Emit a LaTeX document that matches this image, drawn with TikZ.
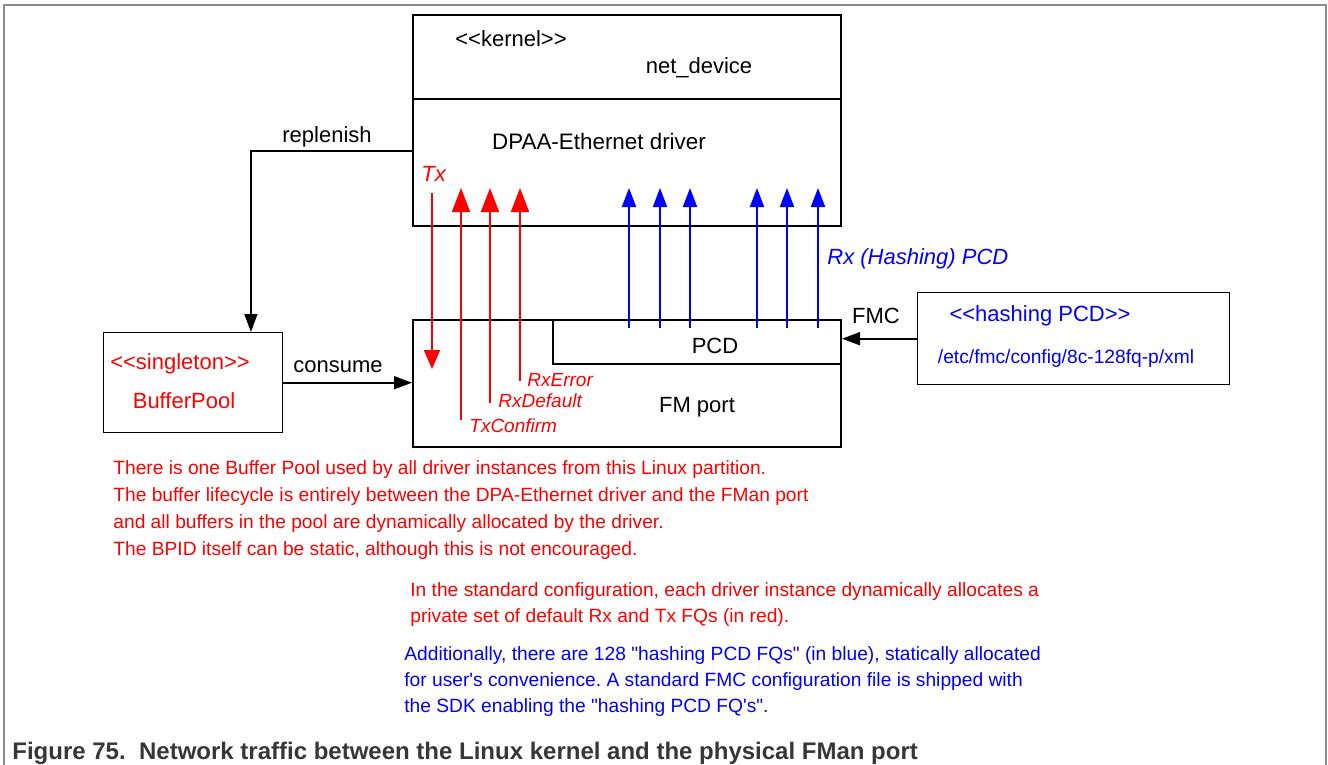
\documentclass[tikz,border=0pt]{standalone}
\usepackage{fontspec}
\setmainfont{Liberation Sans}[Ligatures=TeXOff]
\usetikzlibrary{arrows.meta,positioning,calc}
\definecolor{fqred}{RGB}{255,0,0}
\definecolor{fqblue}{RGB}{0,0,255}
\definecolor{framegray}{RGB}{140,140,140}
\definecolor{capgray}{RGB}{55,55,55}
\frenchspacing
\tikzset{
  box/.style={draw, line width=1pt, inner sep=0pt, anchor=north west},
  thinbox/.style={draw, line width=0.7pt, inner sep=0pt, anchor=north west},
  lbl/.style={inner sep=0pt, anchor=base, font=\fontsize{11}{13}\selectfont},
  fqlbl/.style={inner sep=0pt, anchor=base west, text=fqred, font=\fontsize{9.5}{11}\selectfont\itshape},
  para/.style={inner sep=0pt, anchor=base west, align=left, font=\fontsize{9.6}{13}\selectfont},
  flow/.style={line width=0.8pt, -{Triangle[length=9pt,width=6.5pt]}},
  fqup/.style={draw=fqred, line width=1pt, -{Triangle[length=12pt,width=9pt]}},
  fqdown/.style={draw=fqred, line width=0.8pt, -{Triangle[length=9.5pt,width=8pt]}},
  hashup/.style={draw=fqblue, line width=1pt, -{Triangle[length=9.5pt,width=7pt]}}
}
\begin{document}
\begin{tikzpicture}[x=0.5pt,y=-0.5pt]
\useasboundingbox (0,0) rectangle (1328,765);
\draw[framegray, line width=1pt] (4,765) -- (4,5) -- (1326,5) -- (1326,765);

\node[box, minimum width=214pt, minimum height=42pt] (kern) at (412,14) {};
\node[box, minimum width=214pt, minimum height=63.5pt] (drv) at (412,98) {};
\node[box, minimum width=214pt, minimum height=63.5pt] (fmp) at (412,319) {};
\node[box, minimum width=144pt, minimum height=22pt] (pcd) at (552,319) {};
\node[thinbox, minimum width=89.5pt, minimum height=50pt] (bpool) at (103,332) {};
\node[thinbox, minimum width=156pt, minimum height=46pt] (hashcfg) at (917,292) {};

\node[lbl] (kernlbl) at (511,47) {<<kernel>>};
\node[lbl] (netdev) at (699,74) {net\_device};
\node[lbl, font=\fontsize{11.2}{13}\selectfont] (drvlbl) at (599,149) {DPAA-Ethernet driver};
\node[lbl] (pcdlbl) at (715,353) {PCD};
\node[lbl] (fmplbl) at (697,412) {FM port};
\node[lbl, text=fqred] (single) at (180,369) {<<singleton>>};
\node[lbl, text=fqred] (bplbl) at (184,408) {BufferPool};
\node[lbl, text=fqblue] (hashlbl) at (1040,321) {<<hashing PCD>>};
\node[lbl, text=fqblue, font=\fontsize{9.6}{11}\selectfont] (cfgpath) at (1066,363) {/etc/fmc/config/8c-128fq-p/xml};
\node[lbl, anchor=base west, text=fqred, font=\fontsize{11}{13}\selectfont\itshape] (txlbl) at (421,181) {Tx};
\node[lbl, anchor=base west, text=fqblue, font=\fontsize{11}{13}\selectfont\itshape] (rxpcd) at (827,264) {Rx (Hashing) PCD};
\node[fqlbl] (rxerr) at (527,386) {RxError};
\node[fqlbl] (rxdef) at (498,407) {RxDefault};
\node[fqlbl] (txconf) at (469,432) {TxConfirm};

% buffer pool loop
\node[lbl] (repl) at (327,142) {replenish};
\node[lbl] (cons) at (338,372) {consume};
\node[lbl] (fmc) at (876,323) {FMC};
\coordinate (replout) at (412,151);
\draw[flow] (replout) -| ($(bpool.north west)!0.82!(bpool.north east)$);
\draw[flow] (bpool.east) -- (bpool.east -| fmp.west);
\draw[flow] (hashcfg.west) -- (hashcfg.west -| pcd.east);

% frame queues
\coordinate (txtop) at (432,193);
\coordinate (txbot) at (432,369);
\draw[fqdown] (txtop) -- (txbot);
\foreach \x/\y in {461/420,490/403,520/381}{
  \coordinate (fqlo) at (\x,\y);
  \coordinate (fqhi) at (\x,188);
  \draw[fqup] (fqlo) -- (fqhi);
}
\foreach \x in {629,660,690,757,787,818}{
  \coordinate (hlo) at (\x,328);
  \coordinate (hhi) at (\x,188);
  \draw[hashup] (hlo) -- (hhi);
}

\node[para, text=fqred, font=\fontsize{9.6}{13.5}\selectfont] (note1) at (113,555) {There is one Buffer Pool used by all driver instances from this Linux partition.\\
The buffer lifecycle is entirely between the DPA-Ethernet driver and the FMan port\\
and all buffers in the pool are dynamically allocated by the driver.\\
The BPID itself can be static, although this is not encouraged.};
\node[para, text=fqred] (note2) at (410,622) {In the standard configuration, each driver instance dynamically allocates a\\
private set of default Rx and Tx FQs (in red).};
\node[para, text=fqblue] (note3) at (404,712) {Additionally, there are 128 "hashing PCD FQs" (in blue), statically allocated\\
for user's convenience. A standard FMC configuration file is shipped with\\
the SDK enabling the "hashing PCD FQ's".};

\node[inner sep=0pt, anchor=base west, text=capgray, font=\fontsize{12}{14}\selectfont\bfseries] (caption) at (12,759) {Figure 75.\ \ Network traffic between the Linux kernel and the physical FMan port};
\end{tikzpicture}
\end{document}
